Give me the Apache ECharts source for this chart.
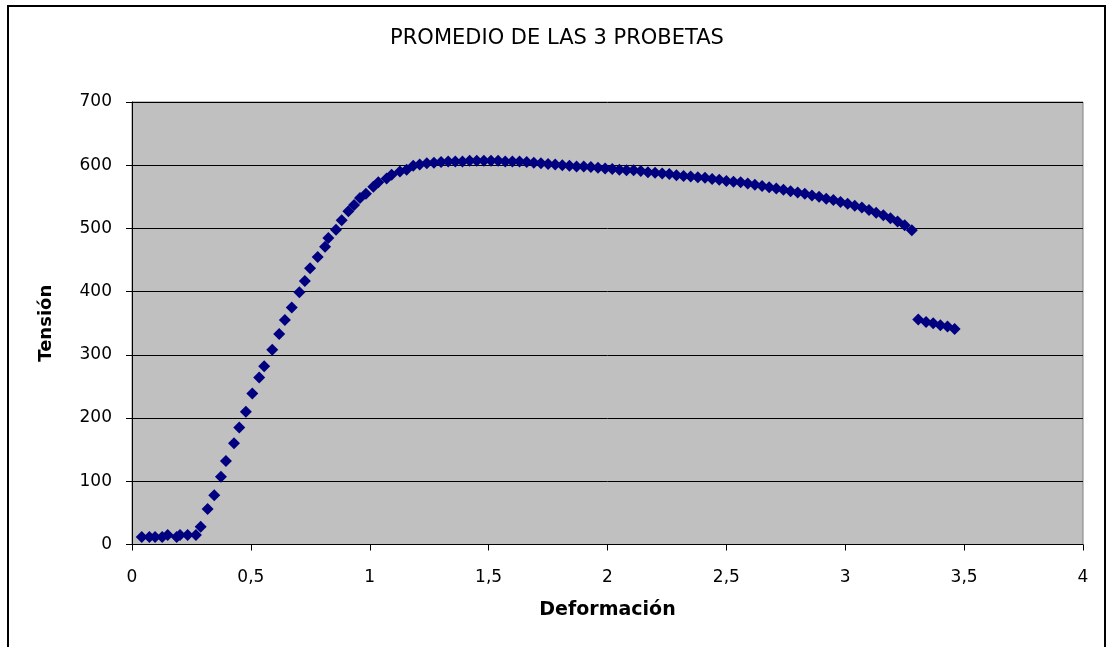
<!DOCTYPE html>
<html>
<head>
<meta charset="utf-8">
<script src="https://cdn.jsdelivr.net/npm/echarts@6/dist/echarts.min.js"></script>
<style>
html,body{margin:0;padding:0;background:#fff;}
#chart{width:1114px;height:647px;}
</style>
</head>
<body>
<div id="chart"></div>
<script>
var titleText = 'PROMEDIO DE LAS 3 PROBETAS';
var xAxisName = 'Deformación';
var yAxisName = 'Tensión';

var deformacion = [
  0.041, 0.073, 0.097, 0.127, 0.150, 0.188, 0.202, 0.234, 0.269, 0.289,
  0.318, 0.346, 0.374, 0.395, 0.429, 0.451, 0.479, 0.506, 0.535, 0.556,
  0.590, 0.619, 0.643, 0.672, 0.704, 0.727, 0.749, 0.781, 0.812, 0.826,
  0.858, 0.882, 0.910, 0.934, 0.959, 0.984, 1.015, 1.036, 1.071, 1.092,
  1.127, 1.155, 1.183,
  1.21, 1.24, 1.27, 1.30, 1.33, 1.36, 1.39, 1.42, 1.45, 1.48,
  1.51, 1.54, 1.57, 1.60, 1.63, 1.66, 1.69, 1.72, 1.75, 1.78,
  1.81, 1.84, 1.87, 1.90, 1.93, 1.96, 1.99, 2.02, 2.05, 2.08,
  2.11, 2.14, 2.17, 2.20, 2.23, 2.26, 2.29, 2.32, 2.35, 2.38,
  2.41, 2.44, 2.47, 2.50, 2.53, 2.56, 2.59, 2.62, 2.65, 2.68,
  2.71, 2.74, 2.77, 2.80, 2.83, 2.86, 2.89, 2.92, 2.95, 2.98,
  3.01, 3.04, 3.07, 3.10, 3.13, 3.16, 3.19, 3.22, 3.25, 3.28,
  3.307, 3.34, 3.37, 3.40, 3.43, 3.46
];
var tension = [
  12, 12, 12, 12, 15, 12, 15, 15, 15, 28,
  56, 78, 107, 132, 160, 185, 210, 239, 264, 282,
  308, 333, 355, 375, 399, 417, 437, 455, 471, 485,
  498, 513, 527, 537, 548, 555, 566, 573, 579, 585,
  590, 593, 599,
  601, 603, 604, 605, 606, 606, 606, 607, 607, 607,
  607, 607, 606, 606, 606, 605, 604, 603, 602, 601,
  600, 599, 598, 598, 597, 596, 595, 594, 593, 592,
  592, 591, 589, 588, 587, 586, 584, 583, 582, 581,
  580, 578, 577, 575, 574, 573, 571, 569, 567, 565,
  563, 561, 559, 557, 555, 552, 550, 547, 545, 542,
  539, 536, 533, 529, 525, 521, 516, 511, 505, 497,
  356, 352, 350, 347, 345, 341
];

var points = deformacion.map(function (d, i) { return [d, tension[i]]; });

var chart = echarts.init(document.getElementById('chart'), null, {renderer: 'canvas'});
var FONT = 'DejaVu Sans';
chart.setOption({
  backgroundColor: '#ffffff',
  animation: false,
  title: {
    text: titleText,
    left: 'center',
    top: 23,
    textStyle: {fontFamily: FONT, fontSize: 21, fontWeight: 'normal', color: '#000'}
  },
  graphic: [{
    type: 'rect',
    shape: {x: 8, y: 6, width: 1097, height: 700},
    style: {fill: 'none', stroke: '#000', lineWidth: 2},
    silent: true
  }],
  grid: {
    left: 132, top: 102, right: 31, bottom: 102.5,
    show: true, backgroundColor: '#C0C0C0', borderColor: '#808080', borderWidth: 1
  },
  xAxis: {
    type: 'value', min: 0, max: 4, interval: 0.5,
    name: xAxisName, nameLocation: 'middle', nameGap: 56,
    nameTextStyle: {fontFamily: FONT, fontSize: 19, fontWeight: 'bold', color: '#000'},
    axisLine: {show: true, onZero: false, lineStyle: {color: '#000', width: 1}},
    axisTick: {show: true, length: 6, lineStyle: {color: '#000'}},
    axisLabel: {
      fontFamily: FONT, fontSize: 17, color: '#000', margin: 25,
      formatter: function (v) { return String(v).replace('.', ','); }
    },
    splitLine: {show: false}
  },
  yAxis: {
    type: 'value', min: 0, max: 700, interval: 100,
    name: yAxisName, nameLocation: 'middle', nameGap: 77, nameRotate: 90,
    nameTextStyle: {fontFamily: FONT, fontSize: 18, fontWeight: 'bold', color: '#000'},
    axisLine: {show: true, lineStyle: {color: '#000', width: 1}},
    axisTick: {show: true, length: 6, lineStyle: {color: '#000'}},
    axisLabel: {fontFamily: FONT, fontSize: 17, color: '#000', margin: 20},
    splitLine: {show: true, lineStyle: {color: '#000', width: 1}}
  },
  series: [{
    type: 'scatter',
    data: points,
    symbol: 'diamond',
    symbolSize: [12, 12],
    itemStyle: {color: '#000080', opacity: 1}
  }]
});
</script>
</body>
</html>
